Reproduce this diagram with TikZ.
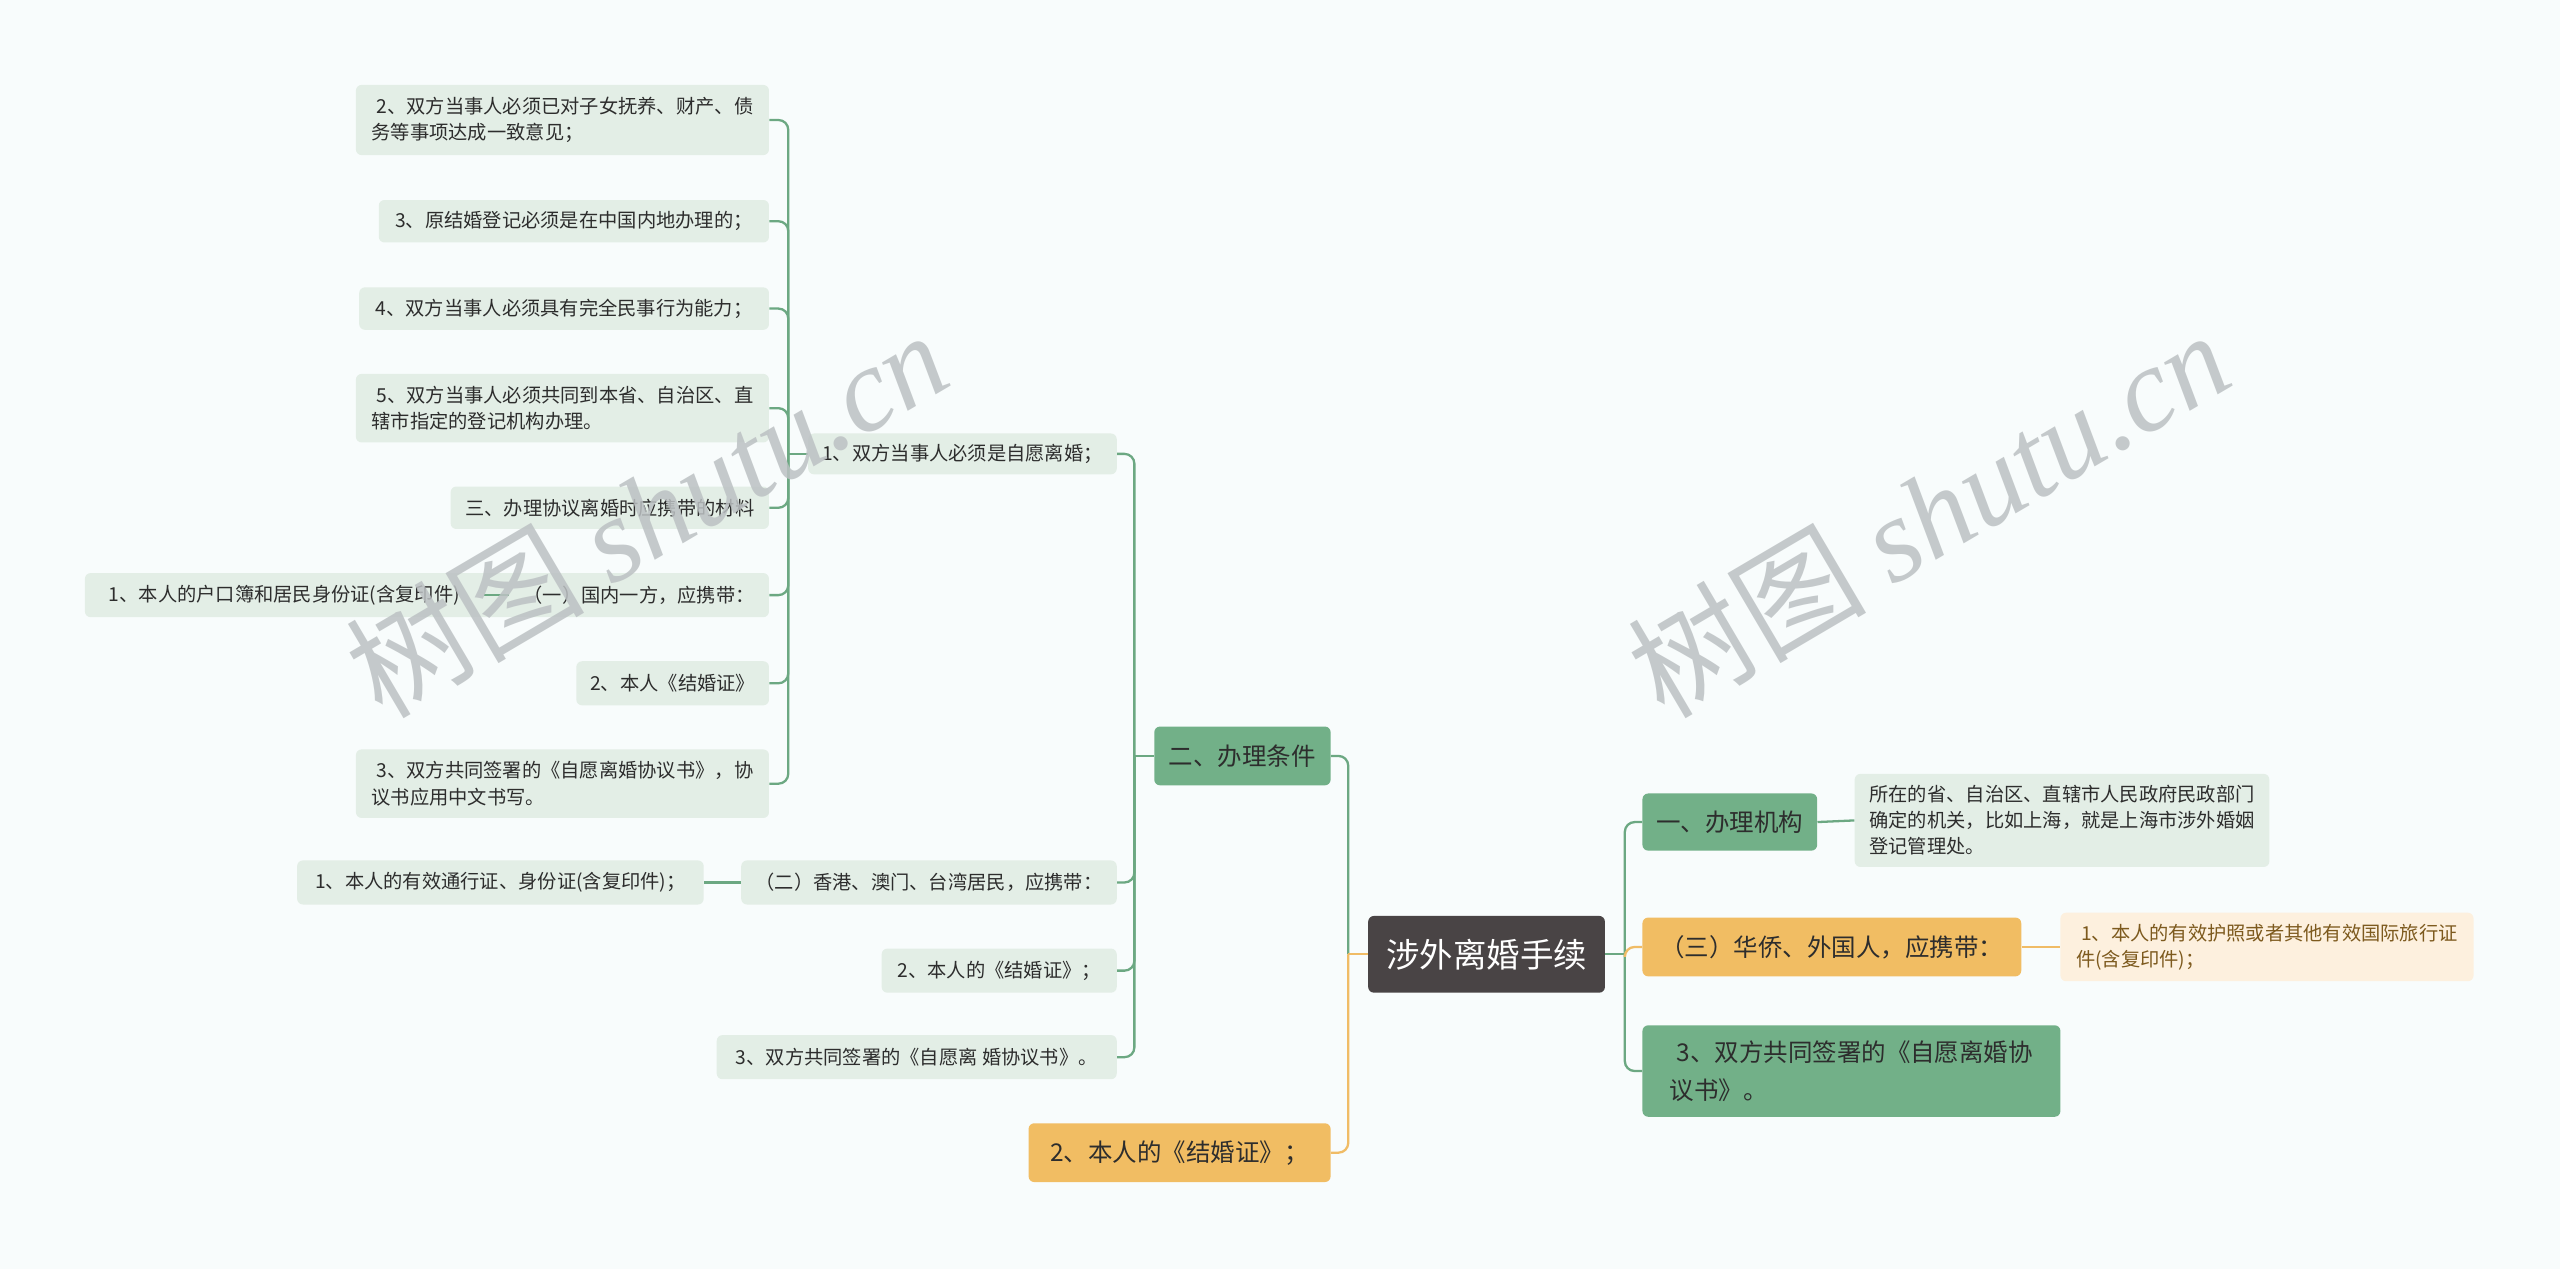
\documentclass[tikz,border=0pt]{standalone}
\usepackage{fontspec}
\setmainfont{Noto Sans CJK SC}
\newfontfamily\wmserif{Liberation Serif}
\usetikzlibrary{calc}
\definecolor{bgc}{RGB}{248,252,252}
\definecolor{gfill}{RGB}{114,176,136}
\definecolor{glinec}{RGB}{108,168,130}
\definecolor{ofill}{RGB}{241,189,99}
\definecolor{olinec}{RGB}{240,188,102}
\definecolor{rootfill}{RGB}{73,68,69}
\definecolor{leafgc}{RGB}{227,238,230}
\definecolor{leafoc}{RGB}{253,240,222}
\definecolor{txtc}{RGB}{45,45,45}
\definecolor{brownc}{RGB}{125,90,30}
\definecolor{wmc}{RGB}{188,193,195}
\begin{document}
\begin{tikzpicture}[x=1pt,y=-1pt,
  box/.style={rounded corners=3.5pt, inner sep=0pt, align=left, text=txtc},
  leafg/.style={box, fill=leafgc, font=\fontsize{11.8}{16}\selectfont},
  leafo/.style={box, fill=leafoc, text=brownc, font=\fontsize{11.8}{16}\selectfont},
  leafplain/.style={box, font=\fontsize{11.8}{16}\selectfont},
  mainb/.style={box, font=\fontsize{15}{23}\selectfont},
  greenb/.style={mainb, fill=gfill},
  orangeb/.style={mainb, fill=ofill},
  rootb/.style={box, fill=rootfill, text=white, font=\fontsize{20.5}{24}\selectfont},
  gl/.style={draw=glinec, line width=1.4pt},
  ol/.style={draw=olinec, line width=1.4pt},
  rc/.style={rounded corners=6pt},
  wmark/.style={rotate=30.5, text=wmc, opacity=0.85, inner sep=0pt}
]
\useasboundingbox (0,0) rectangle (1568,777.26);
\fill[bgc] (0,0) rectangle (1568,777.26);

% ---- left column leaves
\node[leafg, minimum width=253pt, minimum height=43pt] (L1) at (344.5,73.5)
  {\hspace{3pt}2、双方当事人必须已对子女抚养、财产、债\\务等事项达成一致意见；};
\node[leafg, minimum width=239pt, minimum height=26pt] (L2) at (351.5,135.5)
  {3、原结婚登记必须是在中国内地办理的；};
\node[leafg, minimum width=251pt, minimum height=26pt] (L3) at (345.5,189)
  {4、双方当事人必须具有完全民事行为能力；};
\node[leafg, minimum width=253pt, minimum height=42pt] (L4) at (344.5,250)
  {\hspace{3pt}5、双方当事人必须共同到本省、自治区、直\\辖市指定的登记机构办理。};
\node[leafg, minimum width=195pt, minimum height=26pt] (L5) at (373.5,311)
  {三、办理协议离婚时应携带的材料};
\fill[leafgc, rounded corners=3.5pt] (52,351) rectangle (471,378);
\node[leafplain, anchor=west, minimum width=244pt, minimum height=27pt] (L6a) at (52,364.5)
  {1、本人的户口簿和居民身份证(含复印件)};
\node[leafplain, minimum width=159pt, minimum height=27pt] (L6b) at (391.5,364.5)
  {（一）国内一方，应携带：};
\node[leafg, minimum width=118pt, minimum height=27pt] (L7) at (412,418.5)
  {2、本人《结婚证》};
\node[leafg, minimum width=253pt, minimum height=42pt] (L8) at (344.5,480)
  {\hspace{3pt}3、双方共同签署的《自愿离婚协议书》，协\\议书应用中文书写。};

% ---- middle column
\node[leafg, minimum width=189pt, minimum height=25pt] (M1) at (589.5,278)
  {1、双方当事人必须是自愿离婚；};
\node[leafg, minimum width=230pt, minimum height=27pt] (M2) at (569,540.5)
  {（二）香港、澳门、台湾居民，应携带：};
\node[leafg, minimum width=249pt, minimum height=27pt] (M2c) at (306.5,540.5)
  {1、本人的有效通行证、身份证(含复印件)；};
\node[leafg, minimum width=144pt, minimum height=27pt] (M3) at (612,594.5)
  {2、本人的《结婚证》；};
\node[leafg, minimum width=245pt, minimum height=27pt] (M4) at (561.5,647.5)
  {3、双方共同签署的《自愿离 婚协议书》。};

% ---- main branches
\node[greenb, minimum width=108pt, minimum height=36pt] (B1) at (761,463) {二、办理条件};
\node[orangeb, minimum width=185pt, minimum height=36pt] (B2) at (722.5,706) {2、本人的《结婚证》；};
\node[rootb, minimum width=145pt, minimum height=47pt] (root) at (910.5,584.5) {涉外离婚手续};
\node[greenb, minimum width=107pt, minimum height=35pt] (R1) at (1059.5,503.5) {一、办理机构};
\node[orangeb, minimum width=232pt, minimum height=36pt] (R2) at (1122,580) {（三）华侨、外国人，应携带：};
\node[greenb, minimum width=256pt, minimum height=56pt] (R3) at (1134,656)
  {\hspace{4pt}3、双方共同签署的《自愿离婚协\\议书》。};
\node[leafg, minimum width=254pt, minimum height=57pt] (R1c) at (1263,502.5)
  {所在的省、自治区、直辖市人民政府民政部门\\确定的机关，比如上海，就是上海市涉外婚姻\\登记管理处。};
\node[leafo, minimum width=253pt, minimum height=42pt] (R2c) at (1388.5,580)
  {\hspace{3pt}1、本人的有效护照或者其他有效国际旅行证\\件(含复印件)；};

% ---- connectors
\draw[gl] (M1.west) -- ++(-12,0) coordinate (j1);
\foreach \c in {L1,L2,L3,L4,L5,L6b,L7,L8} \draw[gl,rc] (j1) |- (\c.east);
\draw[gl] (L6a.east) -- (L6b.west);

\draw[gl] (B1.west) -- ++(-12,0) coordinate (j2);
\foreach \c in {M1,M2,M3,M4} \draw[gl,rc] (j2) |- (\c.east);
\draw[gl] (M2c.east) -- (M2.west);

\coordinate (j3) at ($(root.west)+(-12,0)$);
\draw[gl,rc] (j3) |- (B1.east);
\draw[ol,rc] (j3) |- (B2.east);
\draw[ol] (root.west) -- (j3);

\draw[gl] (root.east) -- ++(12,0) coordinate (j4);
\draw[gl,rc] (j4) |- (R1.west);
\draw[gl,rc] (j4) |- (R3.west);
\draw[ol,rc] (j4) |- (R2.west);
\draw[gl] (R1.east) -- (R1c.west);
\draw[ol] (R2.east) -- (R2c.west);

% ---- watermarks
\node[wmark] (wm1) at (396,314) {\fontsize{73}{73}\selectfont 树图 {\wmserif\itshape shutu.cn}};
\node[wmark] (wm2) at (1181,314) {\fontsize{73}{73}\selectfont 树图 {\wmserif\itshape shutu.cn}};
\end{tikzpicture}
\end{document}
